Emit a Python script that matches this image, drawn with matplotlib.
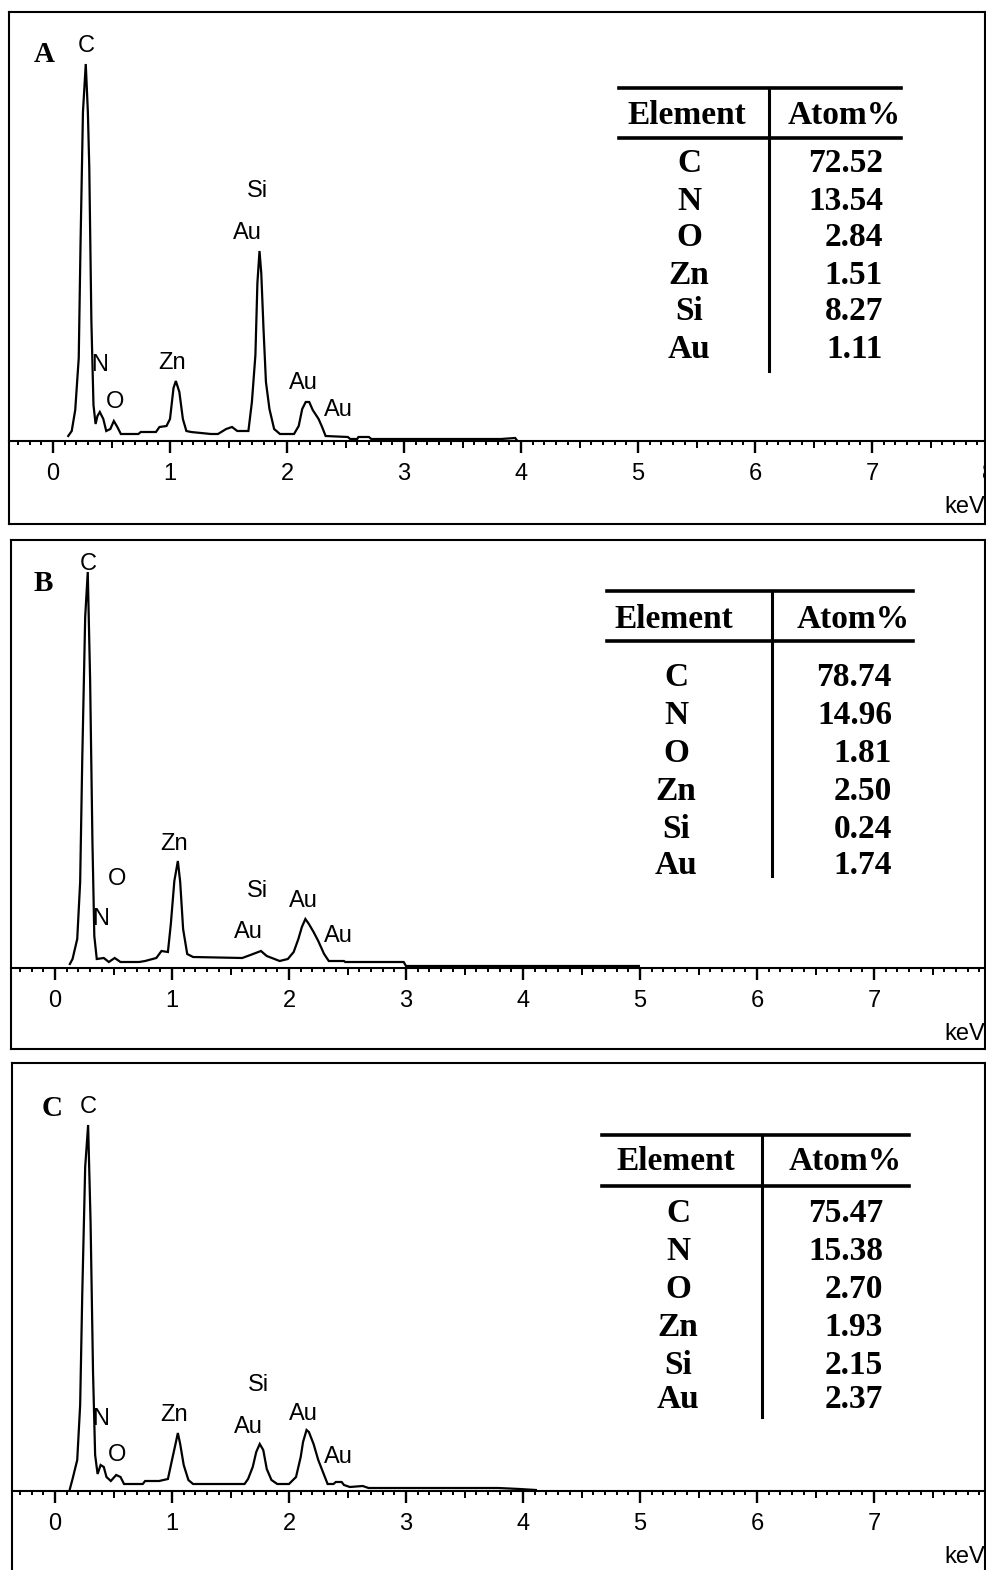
import matplotlib
matplotlib.use("Agg")
import matplotlib.pyplot as plt
from matplotlib.lines import Line2D
from matplotlib.ticker import MultipleLocator, NullFormatter

W, H = 986, 1570

# element table
elements = ["C", "N", "O", "Zn", "Si", "Au"]
atom_a = [72.52, 13.54, 2.84, 1.51, 8.27, 1.11]
atom_b = [78.74, 14.96, 1.81, 2.50, 0.24, 1.74]
atom_c = [75.47, 15.38, 2.70, 1.93, 2.15, 2.37]

# EDS spectra (keV, counts in arbitrary units)
kev_a = [0.13, 0.16, 0.19, 0.22, 0.235, 0.256, 0.28, 0.298, 0.31, 0.328, 0.346,
         0.364, 0.38, 0.40, 0.43, 0.455, 0.49, 0.52, 0.55, 0.58, 0.73, 0.75,
         0.88, 0.91, 0.97, 1.0, 1.03, 1.05, 1.08, 1.11, 1.14, 1.18, 1.35, 1.41,
         1.48, 1.53, 1.575, 1.67, 1.70, 1.73, 1.747, 1.765, 1.78, 1.80, 1.82,
         1.85, 1.89, 1.94, 2.06, 2.10, 2.13, 2.16, 2.19, 2.22, 2.27, 2.30, 2.33,
         2.52, 2.54, 2.60, 2.61, 2.70, 2.72, 3.83, 3.95, 3.97]
cnt_a = [5, 10, 31, 83, 195, 329, 377, 329, 274, 120, 36,
         17, 25, 29, 22, 10, 12, 20, 14, 7, 7, 9,
         9, 14, 15, 22, 53, 60, 49, 22, 10, 9, 7, 7,
         12, 14, 10, 10, 39, 86, 158, 190, 168, 110, 59,
         32, 12, 7, 7, 15, 32, 39, 39, 31, 22, 14, 5,
         4, 2, 2, 4, 4, 2, 2, 3, 0]

kev_b = [0.127, 0.15, 0.19, 0.215, 0.233, 0.258, 0.28, 0.30, 0.32, 0.336, 0.357,
         0.417, 0.46, 0.51, 0.56, 0.72, 0.77, 0.866, 0.91, 0.965, 0.99, 1.02,
         1.05, 1.07, 1.095, 1.13, 1.18, 1.60, 1.67, 1.76, 1.81, 1.92, 1.99, 2.04,
         2.08, 2.11, 2.14, 2.17, 2.21, 2.25, 2.30, 2.34, 2.47, 2.48, 2.98, 3.0,
         4.71, 4.89, 4.99]
cnt_b = [4, 9, 29, 86, 209, 351, 396, 289, 126, 32, 9,
         10, 6, 10, 6, 6, 7, 10, 17, 16, 44, 87,
         107, 86, 39, 14, 11, 10, 13, 17, 12, 7, 9, 16,
         29, 41, 49, 44, 36, 27, 14, 7, 7, 6, 6, 2,
         2, 2, 2]

kev_c = [0.127, 0.15, 0.19, 0.215, 0.233, 0.258, 0.283, 0.304, 0.325, 0.343,
         0.364, 0.39, 0.417, 0.44, 0.477, 0.523, 0.56, 0.59, 0.75, 0.77, 0.89,
         0.965, 1.0, 1.03, 1.05, 1.07, 1.10, 1.14, 1.18, 1.62, 1.65, 1.69, 1.72,
         1.75, 1.78, 1.81, 1.85, 1.90, 2.0, 2.06, 2.10, 2.12, 2.15, 2.17, 2.21,
         2.25, 2.29, 2.33, 2.38, 2.40, 2.45, 2.47, 2.52, 2.63, 2.68, 3.79, 3.97,
         4.11]
cnt_c = [2, 12, 31, 86, 197, 324, 366, 269, 119, 36,
         17, 26, 24, 14, 10, 16, 14, 7, 7, 10, 10,
         12, 31, 47, 58, 47, 26, 11, 7, 7, 12, 24, 39,
         47, 41, 22, 11, 7, 7, 14, 34, 49, 61, 59, 47,
         31, 19, 7, 7, 9, 9, 6, 4, 5, 3, 3, 2,
         1]

# peak labels: text, keV, counts where the label sits
peaks_a = [("C", 0.286, 395), ("N", 0.395, 76), ("O", 0.527, 39), ("Zn", 1.018, 78),
           ("Si", 1.75, 250), ("Au", 1.66, 208), ("Au", 2.14, 58), ("Au", 2.44, 31)]
peaks_b = [("C", 0.286, 404), ("N", 0.39, 49), ("O", 0.53, 89), ("Zn", 1.02, 124),
           ("Si", 1.73, 77), ("Au", 1.65, 36), ("Au", 2.12, 67), ("Au", 2.42, 32)]
peaks_c = [("C", 0.286, 384), ("N", 0.39, 72), ("O", 0.53, 36), ("Zn", 1.02, 76),
           ("Si", 1.74, 106), ("Au", 1.65, 64), ("Au", 2.12, 77), ("Au", 2.42, 34)]

# panel layout in pixels
panels = [
    dict(letter="A", kev=kev_a, cnt=cnt_a, peaks=peaks_a, atom=atom_a,
         left=9, top=12, bottom=524, base=441, x0=53, letter_xy=(44, 55),
         tab=dict(x1=619, x2=901, top=88, mid=138, vx=769, vbot=371,
                  head=115, ex=687, hx2=844, vr=883,
                  rows=[163, 201, 238, 275, 312, 350])),
    dict(letter="B", kev=kev_b, cnt=cnt_b, peaks=peaks_b, atom=atom_b,
         left=11, top=540, bottom=1049, base=968, x0=55, letter_xy=(43, 584),
         tab=dict(x1=607, x2=913, top=591, mid=641, vx=772, vbot=876,
                  head=620, ex=674, hx2=853, vr=892,
                  rows=[677, 715, 753, 791, 829, 866])),
    dict(letter="C", kev=kev_c, cnt=cnt_c, peaks=peaks_c, atom=atom_c,
         left=12, top=1063, bottom=1576, base=1491, x0=55, letter_xy=(52, 1108),
         tab=dict(x1=602, x2=909, top=1135, mid=1186, vx=762, vbot=1417,
                  head=1161, ex=676, hx2=845, vr=883,
                  rows=[1213, 1252, 1289, 1328, 1365, 1400])),
]

RIGHT = 985       # right edge of the frames
AX_RIGHT = 1005   # energy axis runs on past the picture edge
PX_PER_KEV = 117.0
SANS = ["Liberation Sans", "DejaVu Sans"]
SERIF = ["Liberation Serif", "DejaVu Serif"]


def fx(px):
    return px / W


def fy(py):
    return 1 - py / H


fig = plt.figure(figsize=(W / 100, H / 100), dpi=100)

for p in panels:
    # outer frame
    fr = fig.add_axes([fx(p["left"]), fy(p["bottom"]), fx(RIGHT) - fx(p["left"]),
                       (p["bottom"] - p["top"]) / H])
    fr.set_xticks([])
    fr.set_yticks([])
    for s in fr.spines.values():
        s.set_linewidth(1.5)

    # spectrum area, bottom spine is the energy axis
    ax = fig.add_axes([fx(p["left"]), fy(p["base"]), fx(AX_RIGHT) - fx(p["left"]),
                       (p["base"] - p["top"]) / H])
    ax.patch.set_alpha(0)
    ax.plot(p["kev"], p["cnt"], color="black", lw=1.6, solid_joinstyle="miter")
    ax.set_xlim((p["left"] - p["x0"]) / PX_PER_KEV, (AX_RIGHT - p["x0"]) / PX_PER_KEV)
    ax.set_ylim(0, p["base"] - p["top"])
    for side in ["top", "left", "right"]:
        ax.spines[side].set_visible(False)
    ax.spines["bottom"].set_linewidth(1.5)
    ax.set_yticks([])
    ax.xaxis.set_major_locator(MultipleLocator(1))
    ax.xaxis.set_minor_locator(MultipleLocator(0.1))
    ax.tick_params(axis="x", which="major", direction="out", length=8.5, width=1.7,
                   labelsize=17, pad=7)
    ax.tick_params(axis="x", which="minor", direction="out", length=3.2, width=1.4)
    for lab in ax.get_xticklabels():
        lab.set_family(SANS)

    # slightly longer ticks at the half keV marks
    sec = ax.secondary_xaxis("bottom")
    sec.set_xticks([k + 0.5 for k in range(-1, 9)])
    sec.xaxis.set_major_formatter(NullFormatter())
    sec.tick_params(axis="x", direction="out", length=5, width=1.4)
    sec.spines["bottom"].set_visible(False)

    for txt, kx, cy in p["peaks"]:
        ax.text(kx, cy, txt, ha="center", va="center", fontsize=17, family=SANS)

    fig.text(fx(944), fy(p["base"] + 66), "keV", ha="left", va="center",
             fontsize=17, family=SANS)
    fig.text(fx(p["letter_xy"][0]), fy(p["letter_xy"][1]), p["letter"],
             ha="center", va="center", fontsize=21, fontweight="bold", family=SERIF)

    # composition table
    t = p["tab"]
    for yy in [t["top"], t["mid"]]:
        fig.add_artist(Line2D([fx(t["x1"]), fx(t["x2"])], [fy(yy), fy(yy)],
                              transform=fig.transFigure, color="black", lw=2.6))
    fig.add_artist(Line2D([fx(t["vx"]), fx(t["vx"])], [fy(t["top"]), fy(t["vbot"])],
                          transform=fig.transFigure, color="black", lw=2.2))
    tk = dict(fontsize=24, fontweight="bold", family=SERIF, va="center")
    fig.text(fx(t["ex"]), fy(t["head"]), "Element", ha="center", **tk)
    fig.text(fx(t["hx2"]), fy(t["head"]), "Atom%", ha="center", **tk)
    for el, val, ry in zip(elements, p["atom"], t["rows"]):
        fig.text(fx(t["ex"] + 2), fy(ry), el, ha="center", **tk)
        fig.text(fx(t["vr"]), fy(ry), "%.2f" % val, ha="right", **tk)

fig.savefig("out.png", dpi=100)
